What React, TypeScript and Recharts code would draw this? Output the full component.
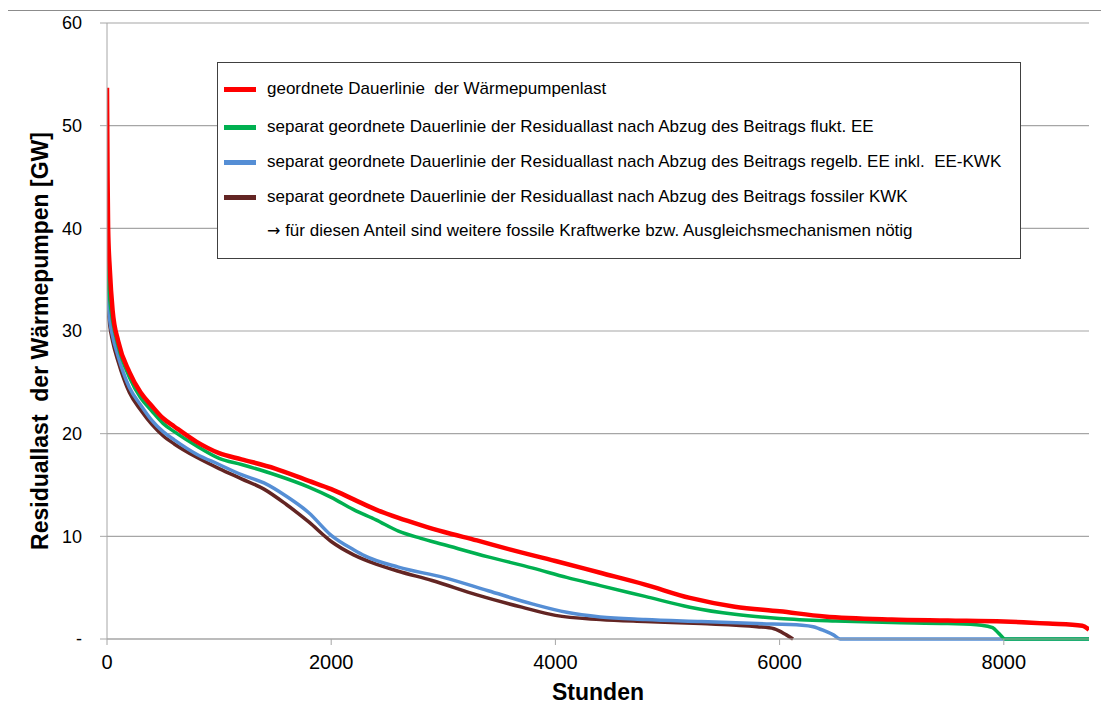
import React from "react";
import { LineChart, Line, XAxis, YAxis, CartesianGrid, Label } from "recharts";

// Stunden / GW
const redHours = [0, 5, 10, 25, 50, 100, 200, 300, 400, 500, 600, 800, 1000, 1200, 1500, 1800, 2000, 2200, 2400, 2600, 2800, 3000, 3300, 3600, 4000, 4400, 4800, 5200, 5600, 6000, 6400, 7000, 7500, 8000, 8400, 8700, 8760];
const redGW = [53.7, 45, 40, 36, 32, 29, 26, 24, 22.7, 21.5, 20.7, 19.2, 18.1, 17.5, 16.6, 15.4, 14.6, 13.6, 12.6, 11.8, 11.1, 10.45, 9.6, 8.7, 7.6, 6.45, 5.3, 4.0, 3.15, 2.7, 2.2, 1.9, 1.8, 1.7, 1.5, 1.3, 0.9];

const greenHours = [0, 10, 25, 50, 100, 200, 300, 400, 500, 600, 800, 1000, 1200, 1500, 1800, 2000, 2200, 2400, 2600, 2800, 3000, 3400, 3800, 4100, 4400, 4800, 5200, 5600, 6000, 6500, 7000, 7500, 7800, 7900, 7960, 8010, 8760];
const greenGW = [37, 35, 33, 31, 28.5, 25.5, 23.5, 22.2, 21, 20.2, 18.8, 17.6, 17, 16, 14.8, 13.8, 12.6, 11.6, 10.5, 9.8, 9.2, 8, 6.9, 6.0, 5.2, 4.15, 3.1, 2.4, 2.0, 1.75, 1.6, 1.5, 1.35, 1.1, 0.5, 0, 0];

const blueHours = [0, 10, 25, 50, 100, 200, 300, 400, 500, 600, 800, 1000, 1200, 1400, 1600, 1800, 2000, 2200, 2300, 2600, 3000, 3400, 3800, 4100, 4400, 4800, 5300, 5800, 6200, 6300, 6400, 6480, 6540, 8760];
const blueGW = [35, 33, 31, 29.5, 27.5, 24.5, 22.8, 21.3, 20.2, 19.4, 18.0, 17.0, 16.0, 15.2, 13.9, 12.3, 10.1, 8.7, 8.1, 7.0, 6.0, 4.7, 3.4, 2.6, 2.15, 1.9, 1.7, 1.5, 1.35, 1.2, 0.8, 0.4, 0, 0];

const brownHours = [0, 10, 25, 50, 100, 200, 300, 400, 500, 600, 800, 1000, 1200, 1400, 1600, 1800, 2000, 2200, 2400, 2600, 2900, 3300, 3700, 4000, 4400, 4800, 5300, 5800, 5950, 6060, 6120];
const brownGW = [33, 32, 30.5, 29, 27, 24, 22.3, 20.9, 19.8, 19, 17.7, 16.6, 15.6, 14.6, 13.1, 11.4, 9.5, 8.2, 7.3, 6.6, 5.7, 4.3, 3.1, 2.3, 1.9, 1.7, 1.5, 1.2, 1.0, 0.4, 0];

const xTicks = [0, 2000, 4000, 6000, 8000];
const yTicks = [0, 10, 20, 30, 40, 50, 60];

const legendItems = [
  { color: "#ff0000", text: "geordnete Dauerlinie  der Wärmepumpenlast" },
  { color: "#00b050", text: "separat geordnete Dauerlinie der Residuallast nach Abzug des Beitrags flukt. EE" },
  { color: "#558ed5", text: "separat geordnete Dauerlinie der Residuallast nach Abzug des Beitrags regelb. EE inkl.  EE-KWK" },
  { color: "#632523", text: "separat geordnete Dauerlinie der Residuallast nach Abzug des Beitrags fossiler KWK" },
  { color: null, text: "für diesen Anteil sind weitere fossile Kraftwerke bzw. Ausgleichsmechanismen nötig" },
];
const legendRowCenters = [26, 64, 99, 134, 168];

const toPoints = (hours: number[], gw: number[]) => hours.map((h, i) => ({ h, v: gw[i] }));

const FONT = '"Liberation Sans", Arial, sans-serif';

export default function App() {
  return (
    <div style={{ position: "relative", width: 1109, height: 722, margin: "-8px 0 0 -8px", fontFamily: FONT, background: "#fff", overflow: "hidden" }}>
      <div style={{ position: "absolute", left: 7, top: 10, width: 1120, height: 740, borderLeft: "1.5px solid #8c8c8c", borderTop: "1.5px solid #8c8c8c" }} />
      <LineChart width={1109} height={722} margin={{ top: 23, right: 20, bottom: 0, left: 0 }} style={{ fontFamily: FONT }}>
        <CartesianGrid vertical={false} stroke="#a6a6a6" strokeWidth={1.2} />
        <XAxis
          type="number"
          dataKey="h"
          domain={[0, 8760]}
          ticks={xTicks}
          height={83}
          stroke="#a6a6a6"
          tickSize={6}
          tickMargin={10}
          tick={{ fill: "#000", fontSize: 20 }}
          allowDataOverflow
        >
          <Label value="Stunden" position="insideBottom" offset={22} style={{ fontSize: 23, fontWeight: "bold", fill: "#000" }} />
        </XAxis>
        <YAxis
          type="number"
          domain={[0, 60]}
          ticks={yTicks}
          width={107}
          stroke="#a6a6a6"
          tickSize={7}
          tickMargin={18}
          tick={{ fill: "#000", fontSize: 18 }}
          tickFormatter={(v: number) => (v === 0 ? "-" : String(v))}
        >
          <Label
            content={() => (
              <text x={40} y={341} transform="rotate(-90 40 341)" textAnchor="middle" dominantBaseline="central" style={{ fontSize: 23, fontWeight: "bold", fill: "#000", fontFamily: FONT, whiteSpace: "pre" }}>
                Residuallast  der Wärmepumpen [GW]
              </text>
            )}
          />
        </YAxis>
        <Line data={toPoints(brownHours, brownGW)} dataKey="v" type="monotone" stroke="#632523" strokeWidth={3.5} dot={false} activeDot={false} isAnimationActive={false} />
        <Line data={toPoints(blueHours, blueGW)} dataKey="v" type="monotone" stroke="#558ed5" strokeWidth={3.5} dot={false} activeDot={false} isAnimationActive={false} />
        <Line data={toPoints(greenHours, greenGW)} dataKey="v" type="monotone" stroke="#00b050" strokeWidth={3.5} dot={false} activeDot={false} isAnimationActive={false} />
        <Line data={toPoints(redHours, redGW)} dataKey="v" type="monotone" stroke="#ff0000" strokeWidth={4.5} dot={false} activeDot={false} isAnimationActive={false} />
      </LineChart>
      <div
        style={{
          position: "absolute",
          left: 217,
          top: 62,
          width: 804,
          height: 197,
          boxSizing: "border-box",
          border: "1.5px solid #404040",
          background: "#fff",
          fontSize: 17,
          color: "#000",
        }}
      >
        {legendItems.map((item, i) => (
          <div key={i} style={{ position: "absolute", left: 0, top: legendRowCenters[i] - 12, height: 24, display: "flex", alignItems: "center", whiteSpace: "pre" }}>
            <div style={{ width: 32, height: 5, marginLeft: 6, marginRight: 11, background: item.color ?? "transparent" }} />
            {item.color ? (
              <span>{item.text}</span>
            ) : (
              <span>
                <span style={{ fontFamily: '"DejaVu Sans", sans-serif', fontSize: 16 }}>{"\u2192"}</span> {item.text}
              </span>
            )}
          </div>
        ))}
      </div>
    </div>
  );
}
